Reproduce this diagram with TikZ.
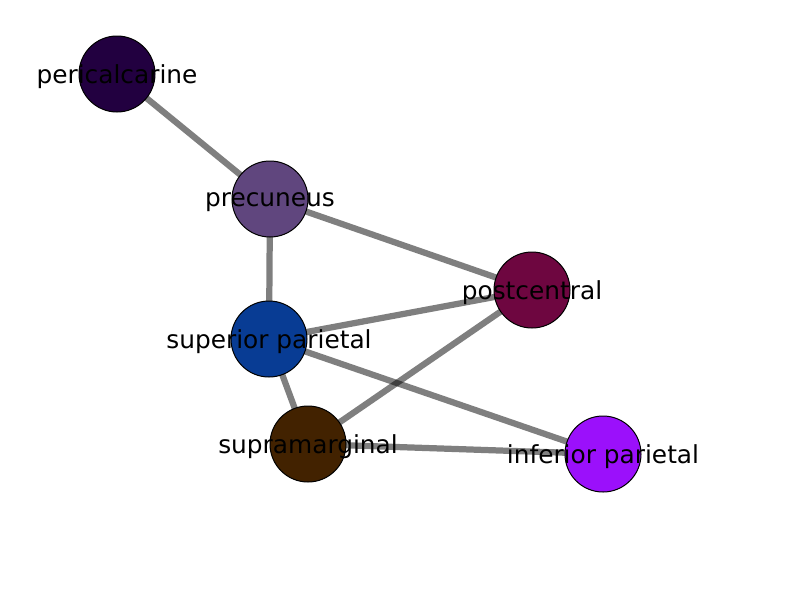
\documentclass[tikz,border=0pt]{standalone}
\usepackage{fontspec}
\setmainfont{DejaVu Sans}
\begin{document}
\begin{tikzpicture}[x=0.85pt,y=-0.85pt,
  nd/.style={circle,draw=black,line width=0.85pt,minimum size=64.6pt,inner sep=0pt},
  lbl/.style={font=\fontsize{21.1}{25}\selectfont,inner sep=0pt,anchor=center,yshift=-2.5pt},
  edge/.style={draw=black,draw opacity=0.5,line width=5.3pt}]
\useasboundingbox (0,0) rectangle (800,600);
\definecolor{cPer}{HTML}{220040}
\definecolor{cPre}{HTML}{60467E}
\definecolor{cPost}{HTML}{6E0640}
\definecolor{cSup}{HTML}{083C94}
\definecolor{cSm}{HTML}{422200}
\definecolor{cInf}{HTML}{9B10FB}
\coordinate (per) at (117,74);
\coordinate (pre) at (270,199);
\coordinate (post) at (532,290);
\coordinate (sup) at (269,339);
\coordinate (sm) at (308,444);
\coordinate (inf) at (603,454);
\draw[edge] (per) -- (pre);
\draw[edge] (pre) -- (post);
\draw[edge] (pre) -- (sup);
\draw[edge] (sup) -- (post);
\draw[edge] (sup) -- (inf);
\draw[edge] (sup) -- (sm);
\draw[edge] (sm) -- (post);
\draw[edge] (sm) -- (inf);
\node[nd,fill=cPer] (nper) at (per) {};
\node[nd,fill=cPre] (npre) at (pre) {};
\node[nd,fill=cPost] (npost) at (post) {};
\node[nd,fill=cSup] (nsup) at (sup) {};
\node[nd,fill=cSm] (nsm) at (sm) {};
\node[nd,fill=cInf] (ninf) at (inf) {};
\node[lbl] (tper) at (per) {pericalcarine};
\node[lbl] (tpre) at (pre) {precuneus};
\node[lbl] (tpost) at (post) {postcentral};
\node[lbl] (tsup) at (sup) {superior parietal};
\node[lbl] (tsm) at (sm) {supramarginal};
\node[lbl] (tinf) at (inf) {inferior parietal};
\end{tikzpicture}
\end{document}
